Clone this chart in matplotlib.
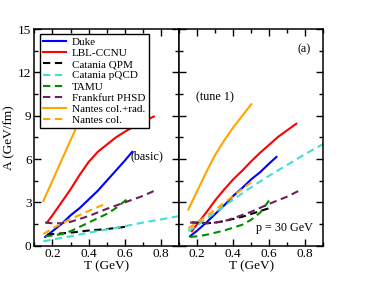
import numpy as np
import matplotlib
matplotlib.use("Agg")
import matplotlib.pyplot as plt
from matplotlib.ticker import MultipleLocator

plt.rcParams['font.family'] = ['Liberation Serif', 'DejaVu Serif']

# ---- data: left panel (basic) ----
duke_T_b = [0.16, 0.2, 0.25, 0.3, 0.35, 0.4, 0.45, 0.5, 0.55, 0.6, 0.64]
duke_A_b = [0.6, 1.0, 1.5, 2.1, 2.6, 3.2, 3.8, 4.5, 5.2, 5.9, 6.5]
lbl_T_b = [0.17, 0.2, 0.25, 0.3, 0.35, 0.4, 0.45, 0.5, 0.55, 0.6, 0.65, 0.7, 0.76]
lbl_A_b = [1.6, 2.1, 3.0, 3.9, 4.9, 5.8, 6.5, 7.0, 7.5, 7.9, 8.25, 8.6, 8.95]
qpm_T_b = [0.17, 0.2, 0.3, 0.4, 0.5, 0.6]
qpm_A_b = [0.75, 0.8, 0.9, 1.05, 1.15, 1.3]
pqcd_T_b = [0.15, 0.2, 0.3, 0.4, 0.5, 0.6, 0.7, 0.8, 0.9]
pqcd_A_b = [0.3, 0.42, 0.65, 0.9, 1.12, 1.35, 1.6, 1.82, 2.05]
tamu_T_b = [0.16, 0.2, 0.25, 0.3, 0.35, 0.4, 0.45, 0.5, 0.55, 0.61]
tamu_A_b = [0.65, 0.7, 0.8, 1.0, 1.3, 1.6, 1.9, 2.2, 2.6, 3.2]
phsd_T_b = [0.16, 0.2, 0.25, 0.3, 0.35, 0.4, 0.5, 0.6, 0.7, 0.78]
phsd_A_b = [1.6, 1.55, 1.55, 1.65, 1.85, 2.05, 2.55, 3.0, 3.45, 3.9]
ncr_T_b = [0.15, 0.2, 0.25, 0.3, 0.35, 0.4, 0.45, 0.5]
ncr_A_b = [3.1, 4.5, 5.9, 7.3, 8.7, 10.0, 11.3, 12.5]
nc_T_b = [0.15, 0.2, 0.3, 0.4, 0.5]
nc_A_b = [0.8, 1.2, 1.85, 2.4, 2.95]

# ---- data: right panel (tune 1) ----
duke_T_t = [0.16, 0.2, 0.25, 0.3, 0.35, 0.4, 0.45, 0.5, 0.55, 0.6, 0.64]
duke_A_t = [0.65, 1.05, 1.6, 2.2, 2.8, 3.45, 4.0, 4.6, 5.1, 5.7, 6.15]
lbl_T_t = [0.17, 0.2, 0.25, 0.3, 0.35, 0.4, 0.45, 0.5, 0.55, 0.6, 0.65, 0.7, 0.75]
lbl_A_t = [1.0, 1.5, 2.3, 3.15, 3.9, 4.6, 5.2, 5.85, 6.45, 7.0, 7.55, 8.0, 8.45]
qpm_T_t = [0.17, 0.2, 0.25, 0.3, 0.35, 0.4, 0.45, 0.5, 0.55, 0.6]
qpm_A_t = [1.6, 1.6, 1.55, 1.6, 1.7, 1.85, 2.0, 2.2, 2.4, 2.6]
pqcd_T_t = [0.15, 0.2, 0.3, 0.4, 0.5, 0.6, 0.7, 0.8, 0.9]
pqcd_A_t = [1.0, 1.4, 2.3, 3.2, 4.05, 4.85, 5.6, 6.35, 7.05]
tamu_T_t = [0.16, 0.2, 0.25, 0.3, 0.35, 0.4, 0.45, 0.5, 0.55, 0.6]
tamu_A_t = [0.6, 0.65, 0.75, 0.9, 1.05, 1.25, 1.45, 1.8, 2.3, 3.15]
phsd_T_t = [0.16, 0.2, 0.25, 0.3, 0.35, 0.4, 0.5, 0.6, 0.7, 0.78]
phsd_A_t = [1.6, 1.6, 1.55, 1.6, 1.7, 1.9, 2.35, 2.9, 3.4, 3.9]
ncr_T_t = [0.15, 0.2, 0.25, 0.3, 0.35, 0.4, 0.45, 0.5]
ncr_A_t = [2.5, 3.8, 5.1, 6.3, 7.3, 8.2, 9.0, 9.8]
nc_T_t = [0.15, 0.2, 0.3, 0.4, 0.5]
nc_A_t = [1.2, 1.6, 2.5, 3.45, 4.4]

labels = ["Duke", "LBL-CCNU", "Catania QPM", "Catania pQCD", "TAMU",
          "Frankfurt PHSD", "Nantes col.+rad.", "Nantes col."]
colors = ["#0000ff", "#ff0000", "#000000", "#40e0d0", "#008c00",
          "#6e1f5c", "#ffa500", "#ffa500"]
dashed = [False, False, True, True, True, True, False, True]

basic = [(duke_T_b, duke_A_b), (lbl_T_b, lbl_A_b), (qpm_T_b, qpm_A_b),
         (pqcd_T_b, pqcd_A_b), (tamu_T_b, tamu_A_b), (phsd_T_b, phsd_A_b),
         (ncr_T_b, ncr_A_b), (nc_T_b, nc_A_b)]
tune = [(duke_T_t, duke_A_t), (lbl_T_t, lbl_A_t), (qpm_T_t, qpm_A_t),
        (pqcd_T_t, pqcd_A_t), (tamu_T_t, tamu_A_t), (phsd_T_t, phsd_A_t),
        (ncr_T_t, ncr_A_t), (nc_T_t, nc_A_t)]

fig = plt.figure(figsize=(3.74, 2.89), dpi=100)
ax1 = fig.add_axes([0.0917, 0.150, 0.3877, 0.749])
ax2 = fig.add_axes([0.4794, 0.150, 0.3850, 0.749])

for ax, sets in ((ax1, basic), (ax2, tune)):
    for (T, A), lab, c, d in zip(sets, labels, colors, dashed):
        if d:
            ax.plot(T, A, color=c, lw=1.5, dashes=(3.5, 2.2), label=lab)
        else:
            ax.plot(T, A, color=c, lw=1.5, label=lab)
    ax.set_xlim(0.1, 0.9)
    ax.set_ylim(0, 15)
    ax.xaxis.set_major_locator(MultipleLocator(0.2))
    ax.xaxis.set_minor_locator(MultipleLocator(0.1))
    ax.yaxis.set_major_locator(MultipleLocator(3))
    ax.yaxis.set_minor_locator(MultipleLocator(1.5))
    ax.tick_params(which='both', direction='in', top=True, right=True,
                   labelsize=9.5, width=1, pad=2)
    ax.tick_params(which='major', length=5)
    ax.tick_params(which='minor', length=3)
    for s in ax.spines.values():
        s.set_linewidth(1.1)
    ax.set_xlabel("T (GeV)", fontsize=9.5, labelpad=0)

ax1.set_ylabel("A (GeV/fm)", fontsize=9.5, labelpad=2)
ax2.tick_params(labelleft=False)

leg = ax1.legend(loc='upper left', bbox_to_anchor=(0.039, 0.978), fontsize=8,
                 frameon=True, fancybox=False, edgecolor='black',
                 framealpha=1, handlelength=2.0, handletextpad=0.6,
                 labelspacing=0.12, borderpad=0.3, borderaxespad=0)
leg.get_frame().set_linewidth(1.0)

ax1.text(0.63, 6.2, "(basic)", fontsize=8.7, va='center', ha='left')
ax2.text(0.194, 10.3, "(tune 1)", fontsize=8.7, va='center', ha='left')
ax2.text(0.757, 13.6, "(a)", fontsize=8.7, va='center', ha='left')
ax2.text(0.526, 1.2, "p = 30 GeV", fontsize=8.7, va='center', ha='left')

fig.savefig("out.png", dpi=100)
